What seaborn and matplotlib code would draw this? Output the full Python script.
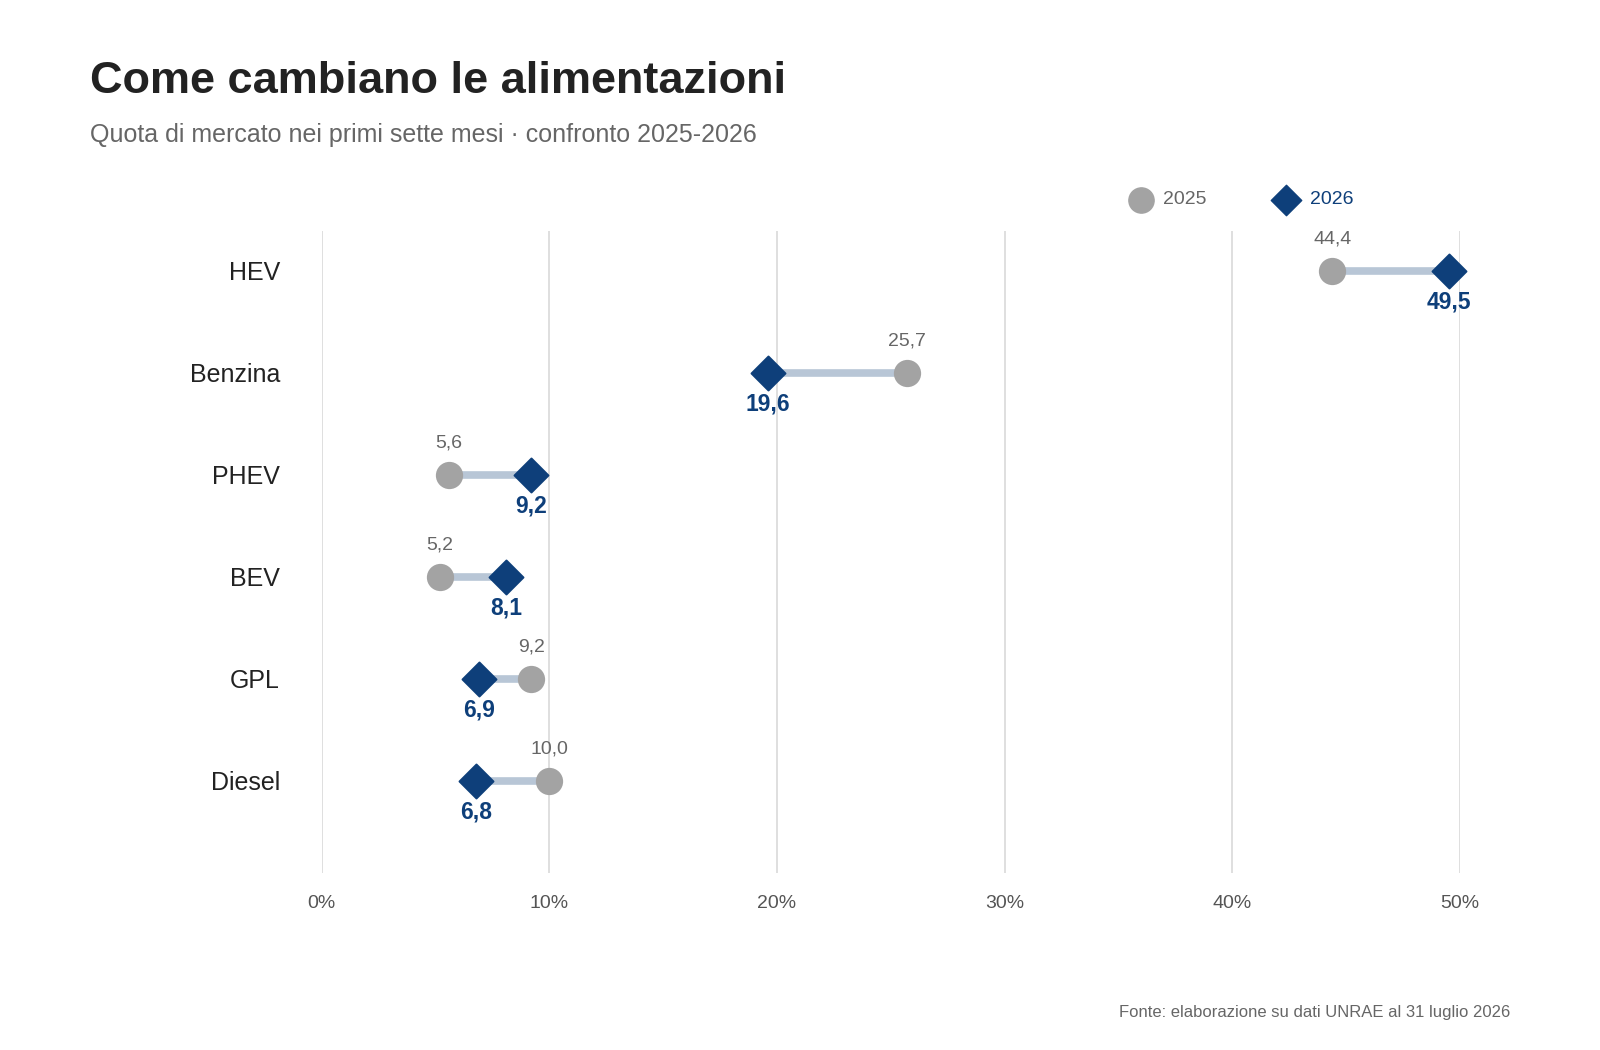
import matplotlib
matplotlib.use("Agg")
import matplotlib.pyplot as plt
import seaborn as sns
import pandas as pd

# dati
categorie = ["HEV", "Benzina", "PHEV", "BEV", "GPL", "Diesel"]
quota_2025 = [44.4, 25.7, 5.6, 5.2, 9.2, 10.0]
quota_2026 = [49.5, 19.6, 9.2, 8.1, 6.9, 6.8]
tick_x = [0, 10, 20, 30, 40, 50]

df = pd.DataFrame({"cat": categorie, "a2025": quota_2025, "a2026": quota_2026})

sns.set_theme(style="white")
plt.rcParams["font.family"] = ["Liberation Sans", "DejaVu Sans"]

grigio = "#a3a3a3"
blu = "#0e3f7a"

fig = plt.figure(figsize=(16, 10.5), dpi=100)
ax = fig.add_axes([0.201, 0.169, 0.7115, 0.611])

for i, r in df.iterrows():
    ax.plot([r.a2025, r.a2026], [i, i], color="#b8c6d6", lw=5.5, zorder=1, solid_capstyle="butt")

sns.scatterplot(data=df, x="a2025", y="cat", ax=ax, color=grigio, s=330, marker="o",
                edgecolor=grigio, zorder=3, legend=False, clip_on=False)
sns.scatterplot(data=df, x="a2026", y="cat", ax=ax, color=blu, s=300, marker="D",
                edgecolor=blu, zorder=4, legend=False, clip_on=False)

for i, r in df.iterrows():
    ax.text(r.a2025, i - 0.31, f"{r.a2025:.1f}".replace(".", ","), ha="center", va="center",
            fontsize=14, color="#666666")
    ax.text(r.a2026, i + 0.31, f"{r.a2026:.1f}".replace(".", ","), ha="center", va="center",
            fontsize=16.5, color=blu, fontweight="bold")

ax.set_xlim(0, 50)
ax.set_ylim(5.9, -0.39)
ax.set_xticks(tick_x)
ax.set_xticklabels([f"{t}%" for t in tick_x], fontsize=14, color="#555555")
ax.tick_params(axis="x", pad=16, length=0)
ax.tick_params(axis="y", pad=30, length=0, labelsize=18, labelcolor="#222222")
ax.set_xlabel("")
ax.set_ylabel("")
ax.grid(axis="x", color="#d9d9d9", lw=1.2)
ax.grid(axis="y", visible=False)
sns.despine(ax=ax, left=True, bottom=True)

fig.text(0.0565, 0.922, "Come cambiano le alimentazioni", fontsize=32.5, fontweight="bold", color="#222222", va="center")
fig.text(0.0565, 0.871, "Quota di mercato nei primi sette mesi · confronto 2025-2026", fontsize=18, color="#666666", va="center")

# legenda manuale
ax_leg = fig.add_axes([0, 0, 1, 1], facecolor="none")
ax_leg.set_axis_off()
ax_leg.set_xlim(0, 1600)
ax_leg.set_ylim(1050, 0)
ax_leg.scatter([1141], [200], s=330, color=grigio, marker="o")
ax_leg.text(1163, 200, "2025", fontsize=14, color="#666666", va="center")
ax_leg.scatter([1286], [200], s=240, color=blu, marker="D")
ax_leg.text(1310, 200, "2026", fontsize=14, color=blu, va="center")
fig.text(0.944, 0.036, "Fonte: elaborazione su dati UNRAE al 31 luglio 2026", fontsize=12, color="#666666", ha="right", va="center")

fig.savefig("out.png", dpi=100)
